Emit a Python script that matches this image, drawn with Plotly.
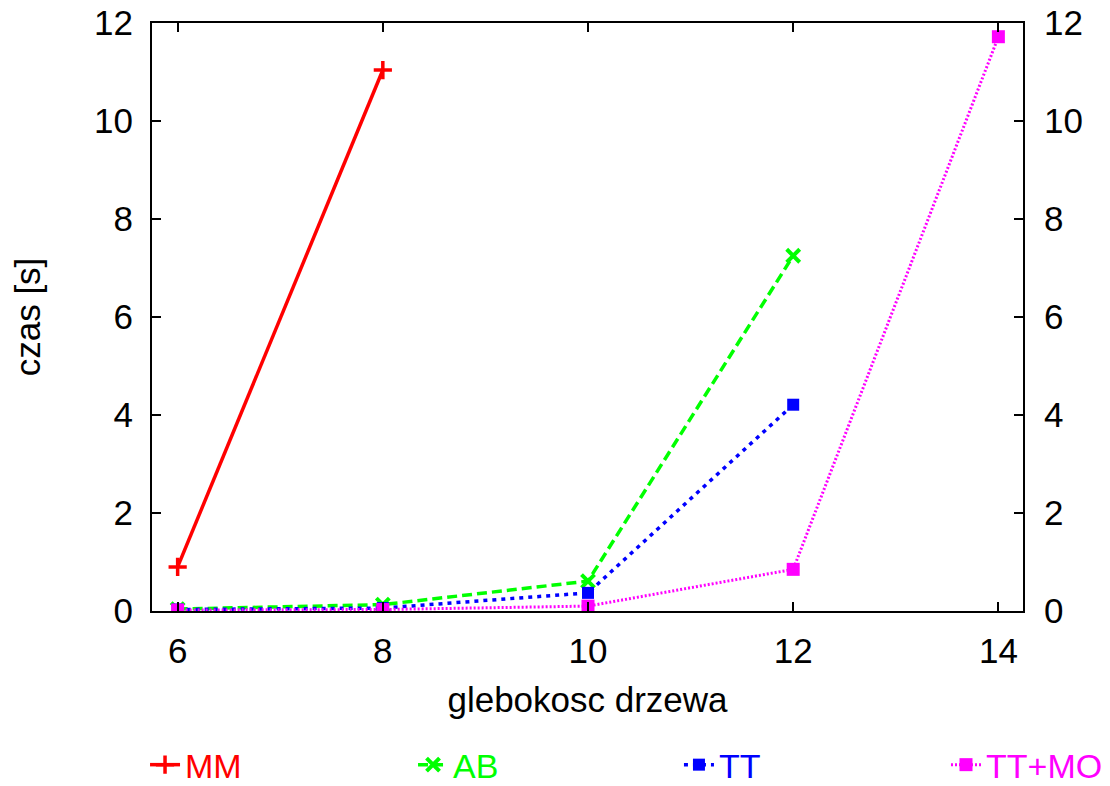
import plotly.graph_objects as go

depth_mm = [6, 8]
time_mm = [0.90, 11.04]
depth_ab = [6, 8, 10, 12]
time_ab = [0.04, 0.13, 0.61, 7.25]
depth_tt = [6, 8, 10, 12]
time_tt = [0.03, 0.06, 0.37, 4.21]
depth_ttmo = [6, 8, 10, 12, 14]
time_ttmo = [0.02, 0.03, 0.10, 0.85, 11.72]

x_ticks = [6, 8, 10, 12, 14]
y_ticks = [0, 2, 4, 6, 8, 10, 12]

FONT = "Liberation Sans, Arial, sans-serif"
FS = 35
LFS = 34


def legend_name(text, color):
    return f"<span style='color:{color}'>{text}</span>"


fig = go.Figure()
fig.add_trace(go.Scatter(
    x=depth_mm, y=time_mm, mode="lines+markers",
    name=legend_name("MM", "#ff0000"), legend="legend",
    line=dict(color="#ff0000", width=3.5),
    marker=dict(symbol="cross-thin", size=13, line=dict(color="#ff0000", width=3.5))))
fig.add_trace(go.Scatter(
    x=depth_ab, y=time_ab, mode="lines+markers",
    name=legend_name("AB", "#00ff00"), legend="legend2",
    line=dict(color="#00ff00", width=3.5, dash="10px,5px"),
    marker=dict(symbol="x-thin", size=13, line=dict(color="#00ff00", width=4))))
fig.add_trace(go.Scatter(
    x=depth_tt, y=time_tt, mode="lines+markers",
    name=legend_name("TT", "#0000ff"), legend="legend3",
    line=dict(color="#0000ff", width=3.5, dash="4px,5px"),
    marker=dict(symbol="square", size=12, color="#0000ff")))
fig.add_trace(go.Scatter(
    x=depth_ttmo, y=time_ttmo, mode="lines+markers",
    name=legend_name("TT+MO", "#ff00ff"), legend="legend4",
    line=dict(color="#ff00ff", width=3, dash="2px,2px"),
    marker=dict(symbol="square", size=13, color="#ff00ff")))
# invisible trace to activate the mirrored right axis
fig.add_trace(go.Scatter(
    x=depth_ttmo, y=time_ttmo, yaxis="y2", mode="lines", opacity=0,
    showlegend=False, hoverinfo="skip"))

axis_common = dict(
    showgrid=False, zeroline=False, ticks="inside", ticklen=9, tickwidth=2,
    tickcolor="black", linecolor="black", linewidth=2, showline=True,
    tickfont=dict(family=FONT, size=FS, color="black"),
)


def leg(xpos):
    return dict(orientation="h", x=xpos, xanchor="left", y=-0.262, yanchor="middle",
                font=dict(family=FONT, size=LFS), bgcolor="rgba(0,0,0,0)",
                borderwidth=0)


fig.update_layout(
    width=1110, height=786,
    margin=dict(l=152, r=87, t=23, b=175, autoexpand=False),
    plot_bgcolor="white", paper_bgcolor="white",
    font=dict(family=FONT, size=FS, color="black"),
    xaxis=dict(range=[5.75, 14.24], tickvals=x_ticks, mirror="ticks",
               ticklabelstandoff=8,
               title=dict(text="glebokosc drzewa", standoff=18,
                          font=dict(family=FONT, size=FS, color="black")),
               **axis_common),
    yaxis=dict(range=[0, 12], tickvals=y_ticks, mirror=True,
               ticklabelstandoff=10,
               title=dict(text="czas [s]", standoff=43,
                          font=dict(family=FONT, size=FS, color="black")),
               **axis_common),
    yaxis2=dict(range=[0, 12], tickvals=y_ticks, overlaying="y", side="right",
                matches="y", ticklabelstandoff=12, **axis_common),
    legend=leg(-0.008),
    legend2=leg(0.2997),
    legend3=leg(0.605),
    legend4=leg(0.9116),
    showlegend=True,
)

fig.write_html("out.html")
